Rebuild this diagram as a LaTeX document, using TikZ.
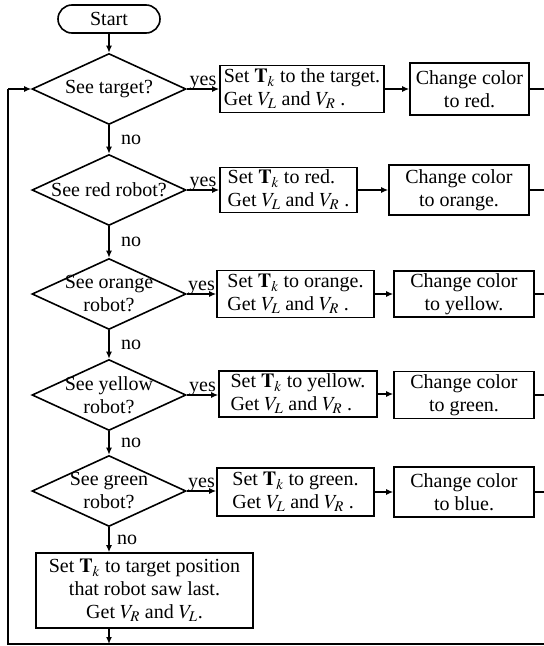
\documentclass[tikz,border=0pt]{standalone}
\usepackage{mathptmx}
\usepackage{fontspec}
\setmainfont{Liberation Serif}
\usetikzlibrary{shapes.geometric,arrows.meta}
\begin{document}
\begin{tikzpicture}[x=1pt,y=-1pt,
 font=\fontsize{20}{23}\selectfont,
 box/.style={draw, line width=1.6pt, inner sep=0pt, align=left},
 cbox/.style={draw, line width=1.6pt, inner sep=0pt, align=center},
 dec/.style={draw, diamond, line width=1.6pt, inner sep=0pt, minimum width=154pt, minimum height=71pt},
 dtext/.style={align=center, inner sep=0pt},
 arr/.style={-{Latex[length=7pt,width=6pt]}, line width=1.3pt},
 ln/.style={line width=1.3pt},
 lbl/.style={inner sep=1.5pt}]
\useasboundingbox (0,0) rectangle (544,646);
\coordinate (bl) at (8,644);
\coordinate (br) at (544,644);

\node[draw, line width=1.6pt, rounded corners=14pt, minimum width=102pt, minimum height=28pt, inner sep=0pt] (start) at (109,19) {Start};

\node[dec] (d1) at (109,89) {};
\node[dtext] (t1) at (d1) {See target?};
\node[dec] (d2) at (109,190) {};
\node[dtext] (t2) at (d2) {See red robot?};
\node[dec] (d3) at (109,294) {};
\node[dtext] (t3) at (d3) {See orange\\robot?};
\node[dec] (d4) at (109,395) {};
\node[dtext] (t4) at (d4) {See yellow\\robot?};
\node[dec] (d5) at (109,491) {};
\node[dtext] (t5) at (d5) {See green\\robot?};

\node[box, minimum width=164pt, minimum height=47pt] (b1) at (302,89) {Set $\mathbf{T}_k$ to the target.\\Get $V_L$ and $V_R$ .};
\node[box, minimum width=137pt, minimum height=45pt] (b2) at (288.5,190) {Set $\mathbf{T}_k$ to red.\\Get $V_L$ and $V_R$ .};
\node[box, minimum width=157pt, minimum height=47pt] (b3) at (295.5,294) {Set $\mathbf{T}_k$ to orange.\\Get $V_L$ and $V_R$ .};
\node[box, minimum width=158pt, minimum height=46pt] (b4) at (298,394) {Set $\mathbf{T}_k$ to yellow.\\Get $V_L$ and $V_R$ .};
\node[box, minimum width=157pt, minimum height=48pt] (b5) at (295.5,492) {Set $\mathbf{T}_k$ to green.\\Get $V_L$ and $V_R$ .};

\node[cbox, minimum width=119pt, minimum height=52pt] (c1) at (469.5,89) {Change color\\to red.};
\node[cbox, minimum width=140pt, minimum height=50pt] (c2) at (459,190) {Change color\\to orange.};
\node[cbox, minimum width=140pt, minimum height=46pt] (c3) at (464,294) {Change color\\to yellow.};
\node[cbox, minimum width=140pt, minimum height=47pt] (c4) at (464,395) {Change color\\to green.};
\node[cbox, minimum width=140pt, minimum height=50pt] (c5) at (464,492) {Change color\\to blue.};

\node[cbox, minimum width=217pt, minimum height=75pt] (fin) at (144.5,590.5) {Set $\mathbf{T}_k$ to target position\\that robot saw last.\\Get $V_R$ and $V_L$.};

\draw[arr] (start.south) -- (d1.north);
\foreach \a/\b in {d1/d2,d2/d3,d3/d4,d4/d5}{
  \draw[arr] (\a.south) -- node[right, lbl, xshift=10pt] {no} (\b.north);
}
\draw[arr] (d5.south) -- node[right, lbl, xshift=6pt] {no} (d5.south |- fin.north);
\foreach \i in {1,...,5}{
  \draw[arr] (d\i.east) -- node[above, inner sep=0pt, yshift=-1pt] {yes} (d\i.east -| b\i.west);
  \draw[arr] (b\i.east) -- (b\i.east -| c\i.west);
  \draw[ln] (c\i.east) -- (c\i.east -| br);
}
\draw[arr] (d5.south |- fin.south) -- (d5.south |- bl);
\draw[ln] (br) -- (bl) -- (bl |- d1.west);
\draw[arr] (bl |- d1.west) -- (d1.west);
\end{tikzpicture}
\end{document}
